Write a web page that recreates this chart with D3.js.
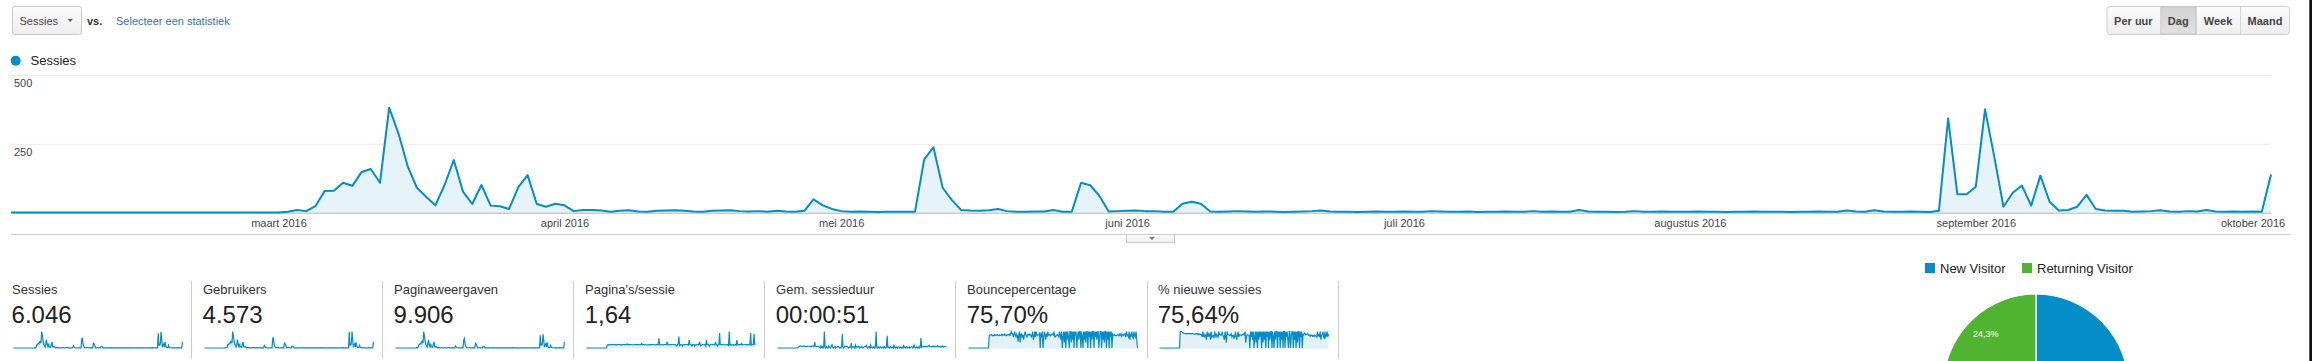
<!DOCTYPE html>
<html><head><meta charset="utf-8">
<script src="https://cdn.jsdelivr.net/npm/d3@7"></script>
<style>
html,body{margin:0;padding:0;background:#fff;overflow:hidden;}
svg{display:block;font-family:"Liberation Sans",Arial,Helvetica,sans-serif;}
</style></head><body>
<svg id="c" width="2312" height="361"></svg>
<script>
// ---------- DATA ----------
const startDate = "2016-02-01";
const sessions = [
0,0,0,0,0,0,0,0,0,0, 0,0,0,0,0,0,0,0,0,0, 0,0,0,0,0,0,0,0,0,
0,3,9,5,23,78,79,108,97,147,158,
108,381,288,169,90,57,26,100,191,76,31,
100,25,23,13,92,136,31,21,32,26,
5,9,9,7,3,6,8,4,3,6,
7,8,6,4,3,6,7,8,5,4,
5,3,6,4,3,6,48,26,13,5,
3,4,3,2,3,3,3,3,193,237,
90,45,9,7,6,8,13,5,3,3,
4,4,9,3,3,108,99,60,4,5,
6,7,5,5,3,3,32,39,32,4,
3,4,5,4,3,4,3,2,3,4,
5,7,4,3,3,2,3,4,3,3,
4,3,3,5,4,3,3,4,2,3,
3,4,3,3,5,3,4,3,3,9,
4,3,3,2,3,5,3,3,4,3,
3,3,4,3,3,2,3,3,4,3,
3,3,2,3,3,4,3,3,7,4,
3,8,4,3,3,4,3,2,6,342,
66,66,94,375,203,21,72,98,25,134,
39,7,9,21,64,13,7,6,6,3,
4,5,8,4,3,5,4,9,4,3,
4,3,4,3,138];
const users = [
0,0,0,0,0,0,0,0,0,0, 0,0,0,0,0,0,0,0,0,0, 0,0,0,0,0,0,0,0,0,
0,3,8,4,19,62,60,82,74,110,118,
84,290,215,128,70,44,21,77,146,58,25,
76,20,18,11,70,104,25,17,25,21,
4,7,8,6,3,5,6,3,3,5,
6,6,5,3,3,5,6,7,4,3,
4,3,5,3,3,5,40,21,10,4,
3,3,3,2,3,3,2,3,160,190,
70,35,7,6,5,6,10,4,3,3,
3,3,7,3,3,86,78,47,3,4,
5,6,4,4,3,3,26,31,25,3,
3,3,4,3,3,3,3,2,3,3,
4,6,3,3,3,2,3,3,3,3,
3,3,3,4,3,3,3,3,2,3,
3,3,3,3,4,3,3,3,3,7,
3,3,3,2,3,4,3,3,3,3,
3,3,3,3,3,2,3,3,3,3,
3,3,2,3,3,3,3,3,5,3,
3,6,3,3,3,3,3,2,5,280,
50,52,72,290,150,17,55,75,20,100,
30,6,7,16,48,10,6,5,5,3,
3,4,6,3,3,4,3,7,3,3,
3,3,3,3,110];
const pageviews = [
0,0,0,0,0,0,0,0,0,0, 0,0,0,0,0,0,0,0,0,0, 0,0,0,0,0,0,0,0,0,
0,5,14,8,36,120,125,170,150,230,250,
170,600,450,260,140,90,40,160,300,120,50,
160,40,36,22,150,220,50,34,52,42,
8,15,14,11,5,10,13,6,5,10,
11,13,10,6,5,10,11,13,8,6,
8,5,10,6,5,10,75,40,20,8,
5,6,5,3,5,5,5,5,290,350,
140,70,15,11,10,13,20,8,5,5,
6,6,15,5,5,170,150,95,6,8,
10,11,8,8,5,5,50,60,50,6,
5,6,8,6,5,6,5,3,5,6,
8,11,6,5,5,3,5,6,5,5,
6,5,5,8,6,5,5,6,3,5,
5,6,5,5,8,5,6,5,5,14,
6,5,5,3,5,8,5,5,6,5,
5,5,6,5,5,3,5,5,6,5,
5,5,3,5,5,6,5,5,11,6,
5,13,6,5,5,6,5,3,10,460,
100,100,150,500,300,35,110,150,40,210,
60,11,14,33,100,20,11,10,10,5,
6,8,13,6,5,8,6,14,6,5,
6,5,6,5,220];
const pagesPerSession = [
0,0,0,0,0,0,0,0,0,0, 0,0,0,0,0,0,0,0,0,0, 0,0,0,0,0,0,0,0,0,0,
1.3,1.5,1.6,1.5,1.6,1.6,1.5,1.6,1.6,1.6,1.6,1.6,1.5,1.6,1.5,1.6,1.6,1.6,1.6,1.6,1.6,1.4,1.6,1.6,1.6,1.6,1.6,1.6,1.6,2.0,1.6,
1.6,1.7,1.6,1.6,1.7,1.7,1.6,1.5,1.7,1.7,1.6,1.6,1.7,1.5,1.7,1.7,1.6,1.6,1.6,2.1,1.6,1.7,1.7,1.5,1.7,1.7,1.6,1.5,1.5,1.6,
1.7,1.5,1.7,1.5,1.7,1.7,1.7,1.7,1.5,1.5,1.6,1.6,1.7,1.6,4.7,1.6,1.5,1.6,1.7,1.7,1.5,1.5,1.7,1.7,1.7,1.6,3.0,1.6,1.5,1.6,
1.7,1.6,1.6,1.6,1.7,1.7,1.6,1.5,1.6,1.5,1.0,1.7,2.0,5.5,1.2,1.5,1.7,1.5,1.0,1.7,1.6,1.6,1.5,1.7,1.7,1.5,1.7,1.5,3.8,1.7,
1.5,1.7,1.0,1.6,1.5,1.7,1.0,1.5,1.5,1.7,1.7,1.5,1.7,3.0,1.6,1.0,1.5,1.7,1.7,1.6,1.5,1.7,1.0,3.8,1.7,1.6,1.7,1.0,1.5,1.7,
1.7,1.7,1.5,1.7,1.7,1.5,3.0,1.7,1.5,1.0,1.7,1.6,7.2,1.7,1.7,1.5,1.7,1.7,1.6,1.5,1.7,1.6,1.5,1.7,1.7,1.0,8.0,1.5,1.7,1.3,
1.5,1.5,1.6,1.3,1.5,1.7,1.5,3.8,1.6,1.6,1.5,1.6,1.6,1.6,2.2,1.5,1.6,1.7,1.7,1.7,1.5,1.6,1.6,1.5,1.7,1.6,1.5,7.2,1.5,1.7,1.5,1.7,6.8,1.7,1.6];
const avgDuration = [
0,0,0,0,0,0,0,0,0,0, 0,0,0,0,0,0,0,0,0,0, 0,0,0,0,0,0,0,0,0,0,
20,45,50,55,60,52,48,55,50,58,52,45,50,48,55,60,52,48,50,45,55,58,50,48,180,52,45,40,50,55,40,
30,0,60,20,45,0,25,500,30,0,40,20,0,60,35,20,0,50,100,30,0,25,40,0,30,20,45,50,30,0,
20,0,40,420,30,0,25,60,50,45,40,30,0,20,35,30,150,0,25,40,30,0,90,20,45,30,40,50,0,30,
20,40,30,0,25,35,40,50,80,20,0,30,40,0,90,20,30,0,25,40,0,30,500,20,0,35,25,0,40,30,
0,25,30,0,40,20,0,35,370,20,30,0,25,40,0,20,30,0,80,25,0,30,20,0,40,30,0,25,20,0,
30,0,70,20,25,0,40,30,0,20,35,0,25,30,40,0,20,90,30,0,25,35,0,20,40,0,30,300,25,40,
45,50,48,52,40,55,50,45,60,80,50,45,40,55,50,45,60,40,50,45,55,70,40,50,45,30,50,40,45,60,35,40,50,45,40];
const bounceRate = [
0,0,0,0,0,0,0,0,0,0, 0,0,0,0,0,0,0,0,0,0, 0,0,0,0,0,0,0,0,0,0,
67,78,80,82,76,74,78,75,80,77,79,76,81,78,75,80,77,79,82,76,80,78,83,77,79,75,81,78,80,85,77,
80,100,89,86,67,83,100,75,67,83,71,38,83,100,33,83,86,62,80,50,80,100,83,75,67,83,81,77,85,80,
67,75,100,50,67,100,67,100,78,76,80,82,89,0,83,75,100,0,67,100,75,50,89,67,100,79,77,82,75,80,
83,86,80,100,67,67,75,79,81,75,67,100,80,50,100,0,67,100,33,100,0,100,50,100,67,0,100,100,33,100,
50,100,0,100,75,100,0,67,100,50,100,100,0,100,67,0,100,50,100,33,100,100,0,100,67,100,0,100,50,100,
100,0,100,67,100,50,100,100,0,67,100,100,0,100,50,100,33,100,100,0,100,50,100,0,100,67,100,0,83,75,
76,80,78,74,77,81,79,75,84,77,86,71,78,81,75,83,86,67,100,83,75,67,100,50,80,75,100,67,60,100,75,67,100,50,0];
const newSessionsPct = [
0,0,0,0,0,0,0,0,0,0, 0,0,0,0,0,0,0,0,0,0, 0,0,0,0,0,0,0,0,0,0,
100,100,100,96,92,90,88,87,88,86,87,88,87,86,88,87,86,87,88,86,85,82,86,84,86,83,87,80,85,84,81,
80,67,100,71,67,83,75,50,100,67,86,75,83,50,100,67,71,75,60,100,80,67,83,75,67,100,83,81,77,80,
100,75,67,50,100,67,33,100,83,80,78,76,78,86,67,75,77,60,67,100,75,50,78,100,67,80,79,78,75,80,
83,86,80,100,33,67,81,79,78,75,0,100,67,100,50,100,0,67,100,33,100,0,100,50,100,67,100,0,100,33,
100,50,100,0,100,67,100,0,100,50,100,100,0,100,67,0,100,50,100,100,0,100,67,100,0,100,50,100,0,100,
100,0,100,67,100,50,0,100,100,0,67,100,100,0,100,50,100,0,100,33,100,100,0,100,67,100,0,83,80,90,
88,80,82,85,86,78,75,80,72,77,79,71,75,70,78,73,71,67,100,75,80,67,100,50,75,80,100,67,60,100,67,75,100,67,86];

const yTicks = [250, 500];
const monthTicks = ["2016-03-01","2016-04-01","2016-05-01","2016-06-01","2016-07-01","2016-08-01","2016-09-01","2016-10-01"];
const monthLabels = ["maart 2016","april 2016","mei 2016","juni 2016","juli 2016","augustus 2016","september 2016","oktober 2016"];
const metricTitles = ["Sessies","Gebruikers","Paginaweergaven","Pagina's/sessie","Gem. sessieduur","Bouncepercentage","% nieuwe sessies"];
const metricValues = ["6.046","4.573","9.906","1,64","00:00:51","75,70%","75,64%"];
const metricSeries = [sessions, users, pageviews, pagesPerSession, avgDuration, bounceRate, newSessionsPct];
const visitorTypes = ["New Visitor","Returning Visitor"];
const visitorShares = [75.7, 24.3];
const visitorLabels = ["75,7%","24,3%"];
const intervalButtons = ["Per uur","Dag","Week","Maand"];
const selectedInterval = "Dag";
const seriesName = "Sessies";

// ---------- DRAW ----------
const W = 2312, H = 361;
const BLUE = "#058dc7", GREEN = "#50b432";
const svg = d3.select("#c");
const defs = svg.append("defs");
const g1 = defs.append("linearGradient").attr("id","btn").attr("x1",0).attr("y1",0).attr("x2",0).attr("y2",1);
g1.append("stop").attr("offset","0").attr("stop-color","#fbfbfb");
g1.append("stop").attr("offset","1").attr("stop-color","#eeeeee");
const g2 = defs.append("linearGradient").attr("id","sel").attr("x1",0).attr("y1",0).attr("x2",0).attr("y2",1);
g2.append("stop").attr("offset","0").attr("stop-color","#d2d2d2");
g2.append("stop").attr("offset","1").attr("stop-color","#e0e0e0");

// header: metric dropdown
svg.append("rect").attr("x",12.5).attr("y",6.5).attr("width",69).attr("height",28).attr("rx",2)
  .attr("fill","url(#btn)").attr("stroke","#c8c8c8");
svg.append("text").attr("x",19.5).attr("y",24.5).attr("font-size",11).attr("fill","#444").text(seriesName);
svg.append("path").attr("d","M67.5,19 L73,19 L70.25,22 Z").attr("fill","#666");
svg.append("text").attr("x",87).attr("y",24.5).attr("font-size",11).attr("font-weight","bold").attr("fill","#333").text("vs.");
svg.append("text").attr("x",116).attr("y",24.5).attr("font-size",11).attr("fill","#3572b0").text("Selecteer een statistiek");

// interval buttons
const bg = svg.append("g");
const pad = 7.6;
const bw = intervalButtons.map(t => {
  const tt = bg.append("text").attr("font-size",11).attr("font-weight","bold").text(t);
  const w = tt.node().getComputedTextLength(); tt.remove(); return w + 2*pad;
});
const total = d3.sum(bw);
let bx = 2290 - total;
const bxs = bw.map(w => { const v = bx; bx += w; return v; });
bg.append("rect").attr("x",bxs[0]+0.5).attr("y",6.5).attr("width",total-1).attr("height",28).attr("rx",3)
  .attr("fill","url(#btn)").attr("stroke","#cfcfcf");
intervalButtons.forEach((t,i) => {
  if (t === selectedInterval) {
    bg.append("rect").attr("x",bxs[i]+0.5).attr("y",7).attr("width",bw[i]-1).attr("height",27)
      .attr("fill","url(#sel)").attr("stroke","#c4c4c4");
  }
  if (i > 0) bg.append("line").attr("x1",Math.round(bxs[i])+0.5).attr("x2",Math.round(bxs[i])+0.5)
      .attr("y1",7).attr("y2",34).attr("stroke","#d6d6d6");
  bg.append("text").attr("x",bxs[i]+bw[i]/2).attr("y",24.5).attr("text-anchor","middle")
    .attr("font-size",11).attr("font-weight","bold").attr("fill","#444").text(t);
});

// legend
svg.append("circle").attr("cx",15.7).attr("cy",60.7).attr("r",5).attr("fill",BLUE);
svg.append("text").attr("x",30.5).attr("y",65.3).attr("font-size",13).attr("fill","#222").text(seriesName);

// main chart
const parse = d3.timeParse("%Y-%m-%d");
const t0 = parse(startDate);
const dates = sessions.map((_, i) => d3.timeDay.offset(t0, i));
const x = d3.scaleTime().domain([dates[0], dates[dates.length-1]]).range([11, 2271]);
const y = d3.scaleLinear().domain([0, 500]).range([212.5, 75]);

const ya = svg.append("g").attr("transform","translate(11,0)")
  .call(d3.axisRight(y).tickValues(yTicks).tickSize(2260).tickFormat(d3.format("d")));
ya.select(".domain").remove();
ya.selectAll(".tick line").attr("stroke","#ebebeb");
ya.selectAll(".tick text").attr("x",3).attr("dy",11.5).attr("font-size",11)
  .attr("font-family","'Liberation Sans',Arial,sans-serif").attr("fill","#444");

svg.append("line").attr("x1",11).attr("x2",2271).attr("y1",213).attr("y2",213).attr("stroke","#999");

const area = d3.area().x((d,i)=>x(dates[i])).y0(y(0)).y1(d=>y(d));
const line = d3.line().x((d,i)=>x(dates[i])).y(d=>y(d));
svg.append("path").datum(sessions).attr("d",area).attr("fill","#e6f3f9");
svg.append("path").datum(sessions).attr("d",line).attr("fill","none").attr("stroke",BLUE)
  .attr("stroke-width",2).attr("stroke-linejoin","round");

const xa = svg.append("g").attr("transform","translate(0,213)")
  .call(d3.axisBottom(x).tickValues(monthTicks.map(parse)).tickSize(0).tickFormat((d,i)=>monthLabels[i]));
xa.select(".domain").remove();
xa.selectAll(".tick text").attr("y",14).attr("dy",0).attr("font-size",11)
  .attr("font-family","'Liberation Sans',Arial,sans-serif").attr("fill","#444");

// divider and toggle
svg.append("line").attr("x1",11).attr("x2",2290).attr("y1",234.5).attr("y2",234.5).attr("stroke","#cccccc");
svg.append("rect").attr("x",1126.5).attr("y",234.5).attr("width",48).attr("height",8).attr("fill","url(#btn)").attr("stroke","#cccccc");
svg.append("path").attr("d","M1149,237 L1155,237 L1152,240 Z").attr("fill","#777");

// metric tiles
const tileW = 191.02, sep0 = 191.4;
metricTitles.forEach((t,i) => {
  const left = sep0 + tileW*(i-1);
  const gx = i === 0 ? 0.4 : left;
  const tg = svg.append("g");
  tg.append("text").attr("x",gx+11.6).attr("y",293.5).attr("font-size",13).attr("fill","#333").text(t);
  tg.append("text").attr("x",gx+11.2).attr("y",323.3).attr("font-size",24).attr("fill","#222").text(metricValues[i]);
  const data = metricSeries[i];
  const sx = d3.scaleLinear().domain([0, data.length-1]).range([gx+13, gx+182]);
  const sy = d3.scaleLinear().domain([0, d3.max(data)]).range([348, 331.5]);
  tg.append("path").datum(data).attr("d", d3.area().x((d,k)=>sx(k)).y0(348.5).y1(d=>sy(d))).attr("fill","#e2f0f8");
  tg.append("path").datum(data).attr("d", d3.line().x((d,k)=>sx(k)).y(d=>sy(d)))
    .attr("fill","none").attr("stroke",BLUE).attr("stroke-width",1.2);
  const sxp = Math.round(sep0 + tileW*i) + 0.5;
  tg.append("line").attr("x1",sxp).attr("x2",sxp).attr("y1",281).attr("y2",358).attr("stroke","#cccccc");
});

// visitor pie (its lower half lies below the visible frame, as in the reference)
const cx = 2036, cy = 386.6, R = 92.6;
const color = d3.scaleOrdinal().domain(visitorTypes).range([BLUE, GREEN]);
const pie = d3.pie().sort(null).value(d=>d);
const arcs = pie(visitorShares);
const arc = d3.arc().innerRadius(0).outerRadius(R);
const labelArc = d3.arc().innerRadius(R*0.785).outerRadius(R*0.785);
const pg = svg.append("g").attr("transform",`translate(${cx},${cy})`);
pg.selectAll("path").data(arcs).join("path").attr("d",arc)
  .attr("fill",(d,i)=>color(visitorTypes[i])).attr("stroke","#fff").attr("stroke-width",1.2);
// only the slice labels that fall inside the visible frame
const visibleLabels = arcs.map((d,i)=>({d, label: visitorLabels[i], c: labelArc.centroid(d)}))
  .filter(o => cy + o.c[1] + 6 < H);
pg.selectAll("text").data(visibleLabels).join("text")
  .attr("transform",o=>`translate(${o.c})`).attr("text-anchor","middle").attr("dy","0.35em")
  .attr("font-size",9).attr("fill","#fff").text(o=>o.label);

const legX = [1925, 2022];
visitorTypes.forEach((t,i) => {
  svg.append("rect").attr("x",legX[i]).attr("y",263).attr("width",10).attr("height",10).attr("fill",color(t));
  svg.append("text").attr("x",legX[i]+15).attr("y",273.3).attr("font-size",13).attr("fill","#222").text(t);
});

// right frame edge
svg.append("rect").attr("x",2309.3).attr("y",0).attr("width",3).attr("height",H).attr("fill","#111");
</script>
</body></html>
